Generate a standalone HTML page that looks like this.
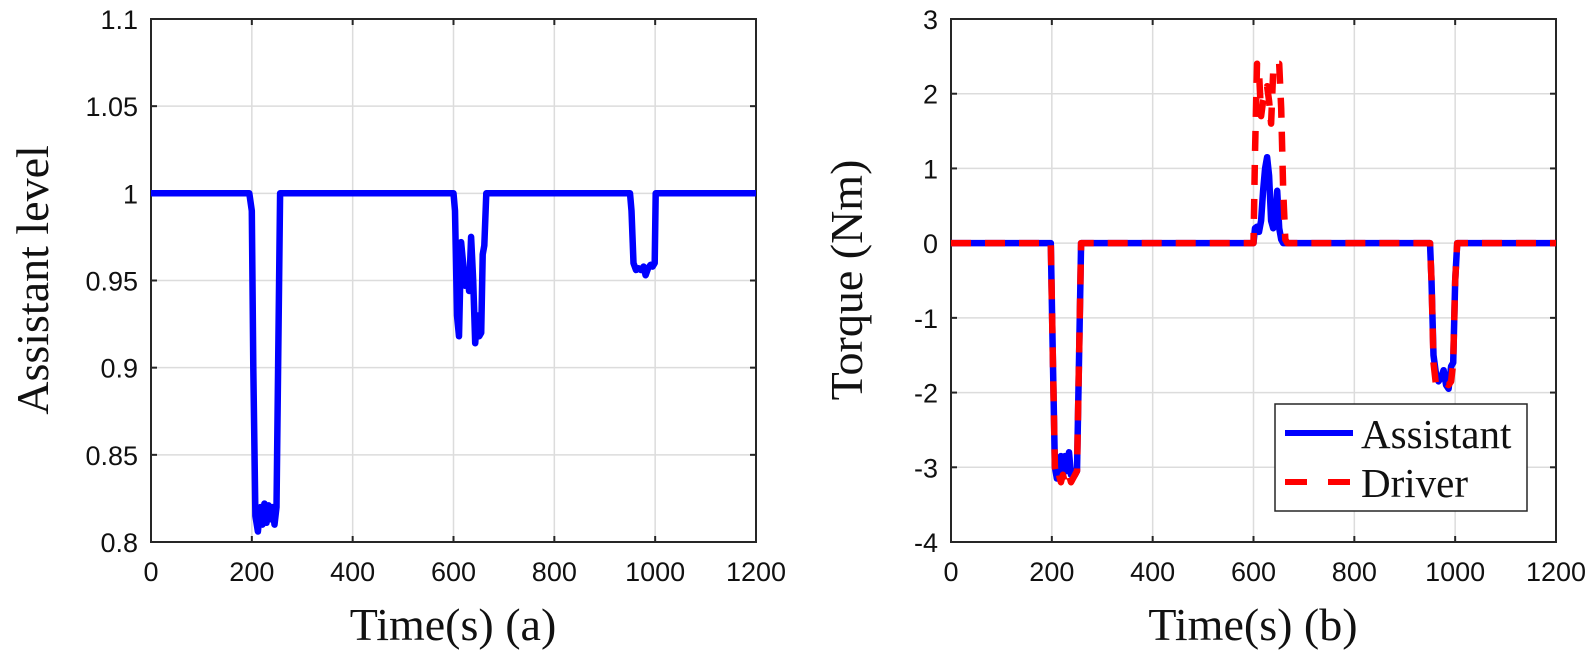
<!DOCTYPE html>
<html><head><meta charset="utf-8"><style>
body{margin:0;background:#fff;}
svg text{font-family:"Liberation Sans",Arial,sans-serif;}
.t{font-family:"Liberation Serif","Times New Roman",serif !important;}
</style></head><body>
<svg id="c" width="1594" height="664" xmlns="http://www.w3.org/2000/svg"></svg>
<script>
const xTicks=[0,200,400,600,800,1000,1200];
const yTicksA=[0.8,0.85,0.9,0.95,1,1.05,1.1];
const yTickLabelsA=["0.8","0.85","0.9","0.95","1","1.05","1.1"];
const yTicksB=[-4,-3,-2,-1,0,1,2,3];
const tA=[0,195,200,203,207,212,217,221,225,229,233,237,241,245,249,252,256,600,603,607,611,615,619,623,627,631,635,639,643,647,651,655,658,661,665,950,953,957,962,967,972,977,981,986,991,995,999,1001,1200];
const levelA=[1,1,0.99,0.9,0.815,0.806,0.82,0.81,0.822,0.811,0.821,0.813,0.82,0.81,0.82,0.9,1,1,0.99,0.93,0.918,0.972,0.96,0.947,0.955,0.944,0.975,0.95,0.914,0.93,0.918,0.92,0.965,0.97,1,1,0.99,0.96,0.956,0.957,0.956,0.958,0.953,0.957,0.959,0.958,0.96,1,1];
const tB=[0,198,202,206,210,214,218,222,226,230,234,238,242,246,250,254,258,600,603,607,611,615,619,623,627,631,635,639,643,647,651,655,659,663,667,950,953,957,962,967,972,977,982,987,992,996,1000,1004,1200];
const assistB=[0,0,-1.5,-3.0,-3.15,-3.0,-2.85,-3.1,-2.85,-3.05,-2.8,-3.1,-3.05,-3.1,-3.05,-1.5,0,0,0.2,0.22,0.15,0.3,0.7,1.0,1.15,0.9,0.3,0.2,0.3,0.7,0.2,0.05,0,0,0,0,-0.5,-1.5,-1.75,-1.85,-1.8,-1.7,-1.9,-1.95,-1.65,-1.6,-0.5,0,0];
const driverB=[0,0,-1.5,-3.0,-3.15,-3.1,-3.2,-3.1,-3.2,-3.15,-3.1,-3.2,-3.15,-3.1,-3.05,-1.5,0,0,1.2,2.4,2.3,1.7,1.9,2.0,2.1,1.9,1.6,2.3,2.4,2.4,2.4,1.8,0.7,0.05,0,0,-0.5,-1.6,-1.9,-1.9,-1.9,-1.9,-1.88,-1.9,-1.85,-1.6,-0.5,0,0];
const NS="http://www.w3.org/2000/svg",svg=document.getElementById('c');
function el(tag,attrs,parent){const e=document.createElementNS(NS,tag);for(const k in attrs)e.setAttribute(k,attrs[k]);(parent||svg).appendChild(e);return e;}
function makeAxes(L,R,T,B,ymin,ymax,yt,ytl,prefix){
  const sx=v=>L+(v-0)/(1200-0)*(R-L), sy=v=>B-(v-ymin)/(ymax-ymin)*(B-T);
  const g=el('g',{});
  
  
  xTicks.forEach(v=>{const x=sx(v);
    const gl=el('line',{x1:x,x2:x,y1:T,y2:B,stroke:'#dcdcdc','stroke-width':1.5},g);
    
    el('line',{x1:x,x2:x,y1:B,y2:B-6,stroke:'#262626','stroke-width':2},g);
    el('line',{x1:x,x2:x,y1:T,y2:T+6,stroke:'#262626','stroke-width':2},g);
    const tx=el('text',{x:x,y:B+39,'font-size':27,'text-anchor':'middle',fill:'#111'},g);tx.textContent=v;
    });
  yt.forEach((v,i)=>{const y=sy(v);
    const gl=el('line',{x1:L,x2:R,y1:y,y2:y,stroke:'#dcdcdc','stroke-width':1.5},g);
    
    el('line',{x1:L,x2:L+6,y1:y,y2:y,stroke:'#262626','stroke-width':2},g);
    el('line',{x1:R,x2:R-6,y1:y,y2:y,stroke:'#262626','stroke-width':2},g);
    const tx=el('text',{x:L-13,y:y+10,'font-size':27,'text-anchor':'end',fill:'#111'},g);tx.textContent=ytl?ytl[i]:v;
    });
  const bx=el('rect',{x:L,y:T,width:R-L,height:B-T,fill:'none',stroke:'#262626','stroke-width':2},g);
  
  return {sx,sy};
}
function series(ax,t,v,color,dash,name){
  const d=t.map((x,i)=>(i?'L':'M')+ax.sx(x).toFixed(1)+' '+ax.sy(v[i]).toFixed(1)).join(' ');
  const p=el('path',{d:d,fill:'none',stroke:color,'stroke-width':6.5,'stroke-linejoin':'round'});
  if(dash)p.setAttribute('stroke-dasharray',dash);
  
  
}
const A=makeAxes(151,756,19,542,0.8,1.1,yTicksA,yTickLabelsA,'left');
series(A,tA,levelA,'#0000ff',null,'assistant-level-line');
const B=makeAxes(951,1556,19,542,-4,3,yTicksB,null,'right');
series(B,tB,assistB,'#0000ff',null,'assistant-torque-line');
series(B,tB,driverB,'#ff0000','20 14','driver-torque-line');
let t=el('text',{x:453,y:640,'font-size':46,'text-anchor':'middle',class:'t',fill:'#111'});t.textContent='Time(s) (a)';

t=el('text',{x:1253,y:640,'font-size':46,'text-anchor':'middle',class:'t',fill:'#111'});t.textContent='Time(s) (b)';

t=el('text',{x:0,y:0,'font-size':46,'text-anchor':'middle',class:'t',fill:'#111',transform:'translate(48,280) rotate(-90)'});t.textContent='Assistant level';

t=el('text',{x:0,y:0,'font-size':46,'text-anchor':'middle',class:'t',fill:'#111',transform:'translate(862,280) rotate(-90)'});t.textContent='Torque (Nm)';

const lg=el('g',{});


el('rect',{x:1275,y:404,width:252,height:107,fill:'#fff',stroke:'#262626','stroke-width':1.5},lg);
el('line',{x1:1285,x2:1353,y1:433,y2:433,stroke:'#0000ff','stroke-width':6},lg);
el('line',{x1:1285,x2:1307,y1:482,y2:482,stroke:'#ff0000','stroke-width':6},lg);
el('line',{x1:1328,x2:1350,y1:482,y2:482,stroke:'#ff0000','stroke-width':6},lg);
t=el('text',{x:1361,y:448,'font-size':41,class:'t',fill:'#111'},lg);t.textContent='Assistant';

t=el('text',{x:1361,y:497,'font-size':41,class:'t',fill:'#111'},lg);t.textContent='Driver';

</script>
</body></html>
